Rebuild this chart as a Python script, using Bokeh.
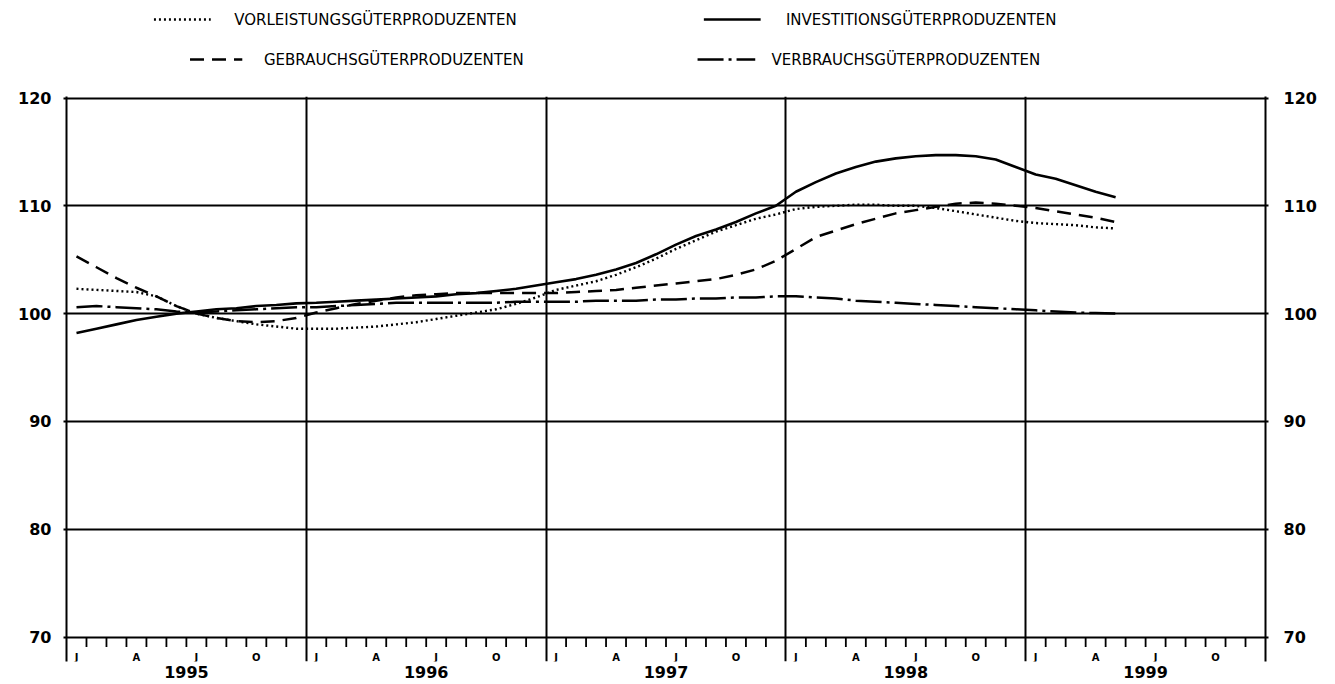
import numpy as np
from bokeh.plotting import figure
from bokeh.layouts import column
from bokeh.models import Range1d, FixedTicker, LinearAxis
from bokeh.core.properties import value
from bokeh.embed import file_html
from bokeh.resources import INLINE

# ---------------- data ----------------
years = ["1995", "1996", "1997", "1998", "1999"]
month_letters = ["J", "A", "J", "O"]          # Jan, Apr, Jul, Oct
month_letter_index = [0, 3, 6, 9]
y_ticks = [70, 80, 90, 100, 110, 120]

series_names = [
    "VORLEISTUNGSGÜTERPRODUZENTEN",
    "INVESTITIONSGÜTERPRODUZENTEN",
    "GEBRAUCHSGÜTERPRODUZENTEN",
    "VERBRAUCHSGÜTERPRODUZENTEN",
]

# monthly values, Jan 1995 .. May 1999
vorleistung = [
    102.3, 102.2, 102.1, 102.0, 101.6, 100.7, 100.0, 99.6, 99.3, 99.0, 98.8, 98.6,
    98.6, 98.6, 98.7, 98.8, 99.0, 99.2, 99.5, 99.8, 100.1, 100.4, 100.9, 101.5,
    102.2, 102.6, 103.0, 103.6, 104.3, 105.1, 106.0, 106.8, 107.6, 108.2, 108.8, 109.2,
    109.7, 109.9, 110.0, 110.1, 110.1, 110.0, 110.0, 109.8, 109.5, 109.2, 108.9, 108.6,
    108.4, 108.3, 108.2, 108.0, 107.9,
]
investition = [
    98.2, 98.6, 99.0, 99.4, 99.7, 100.0, 100.2, 100.4, 100.5, 100.7, 100.8, 100.95,
    101.0, 101.1, 101.2, 101.3, 101.4, 101.5, 101.6, 101.8, 101.9, 102.1, 102.3, 102.6,
    102.9, 103.2, 103.6, 104.1, 104.7, 105.5, 106.4, 107.2, 107.8, 108.5, 109.3, 110.0,
    111.3, 112.2, 113.0, 113.6, 114.1, 114.4, 114.6, 114.7, 114.7, 114.6, 114.3, 113.6,
    112.9, 112.5, 111.9, 111.3, 110.8,
]
gebrauch = [
    105.3, 104.3, 103.3, 102.4, 101.6, 100.7, 100.0, 99.6, 99.3, 99.2, 99.3, 99.6,
    100.1, 100.5, 100.9, 101.2, 101.5, 101.7, 101.8, 101.9, 101.9, 101.9, 101.9, 101.9,
    101.9, 102.0, 102.1, 102.2, 102.4, 102.6, 102.8, 103.0, 103.2, 103.6, 104.1, 104.9,
    106.0, 107.1, 107.7, 108.3, 108.8, 109.3, 109.6, 109.9, 110.2, 110.3, 110.2, 110.0,
    109.8, 109.5, 109.2, 108.9, 108.5,
]
verbrauch = [
    100.6, 100.7, 100.6, 100.5, 100.4, 100.2, 100.1, 100.2, 100.3, 100.4, 100.5, 100.6,
    100.6, 100.7, 100.8, 100.9, 101.0, 101.0, 101.0, 101.0, 101.0, 101.0, 101.1, 101.1,
    101.1, 101.1, 101.2, 101.2, 101.2, 101.3, 101.3, 101.4, 101.4, 101.5, 101.5, 101.6,
    101.6, 101.5, 101.4, 101.2, 101.1, 101.0, 100.9, 100.8, 100.7, 100.6, 100.5, 100.4,
    100.3, 100.2, 100.1, 100.05, 100.0,
]

# ---------------- style / layout ----------------
FONT = "DejaVu Sans"
W = 1330
LEG_H = 88
FRAME_H = 565
PX_PER_UNIT = 10.78
Y_MAX = 120 + 1.5 / PX_PER_UNIT          # keep the 120 line just inside the frame
Y_MIN = Y_MAX - FRAME_H / PX_PER_UNIT     # frame continues below the 70 line
MAIN_H = 8 + FRAME_H + 22

styles = {
    "VORLEISTUNGSGÜTERPRODUZENTEN": dict(line_dash="2 3", line_width=2.4),
    "INVESTITIONSGÜTERPRODUZENTEN": dict(line_dash="solid", line_width=2.6),
    "GEBRAUCHSGÜTERPRODUZENTEN": dict(line_dash="14 8", line_width=2.5),
    "VERBRAUCHSGÜTERPRODUZENTEN": dict(line_dash="26 5 3 5", line_width=2.5),
}
series_values = [vorleistung, investition, gebrauch, verbrauch]

n_months = len(years) * 12
x_months = np.arange(len(investition)) + 0.5     # month centres

# ---------------- legend figure (page pixel coordinates) ----------------
leg = figure(width=W, height=LEG_H, x_range=Range1d(0, W), y_range=Range1d(LEG_H, 0),
             toolbar_location=None, output_backend="svg", x_axis_type=None, y_axis_type=None,
             min_border=0, outline_line_color=None)
leg.grid.visible = False
leg_layout = [  # (sample x0, sample x1, text x, row y)
    (97, 160, 186, 19),
    (707, 770, 798, 19),
    (137, 195, 219, 59),
    (700, 764, 782, 59),
]
for name, (sx0, sx1, tx, ty) in zip(series_names, leg_layout):
    leg.line([sx0, sx1], [ty, ty], line_color="black", **styles[name])
    leg.text(x=[tx], y=[ty], text=[name], text_font=value(FONT), text_font_size="15px",
             text_baseline="middle", text_align="left", text_color="black")

# ---------------- main figure ----------------
p = figure(width=W, height=MAIN_H, x_range=Range1d(0, n_months), y_range=Range1d(Y_MIN, Y_MAX),
           toolbar_location=None, output_backend="svg",
           min_border_left=66, min_border_right=W - 1265, min_border_top=8, min_border_bottom=22,
           outline_line_color=None, background_fill_color="white")

# grid
p.ygrid.ticker = FixedTicker(ticks=y_ticks)
p.ygrid.grid_line_color = "black"
p.ygrid.grid_line_width = 2
p.xgrid.ticker = FixedTicker(ticks=[12, 24, 36, 48])
p.xgrid.grid_line_color = "black"
p.xgrid.grid_line_width = 2

# month tick marks below the 70 line
bounds = [m for m in range(1, n_months) if m % 12 != 0]
p.segment(x0=bounds, y0=[70] * len(bounds), x1=bounds, y1=[70 - 10 / PX_PER_UNIT] * len(bounds),
          line_color="black", line_width=1.8)

# month letters
lx, lt = [], []
for yi in range(len(years)):
    for idx, letter in zip(month_letter_index, month_letters):
        lx.append(yi * 12 + idx + 0.5)
        lt.append(letter)
p.text(x=lx, y=[70 - 20 / PX_PER_UNIT] * len(lx), text=lt, text_font=value(FONT),
       text_font_size="10px", text_font_style="bold", text_align="center",
       text_baseline="middle", text_color="black")

# series
for name, vals in zip(series_names, series_values):
    p.line(x_months, vals, line_color="black", **styles[name])

# axes
right = LinearAxis()
p.add_layout(right, "right")
for ax in p.yaxis:
    ax.ticker = FixedTicker(ticks=y_ticks)
    ax.axis_line_width = 2
    ax.axis_line_color = "black"
    ax.major_tick_out = 3
    ax.major_tick_in = 0
    ax.major_tick_line_width = 2
    ax.minor_tick_line_color = None
    ax.major_label_standoff = 12
    ax.major_label_text_font = FONT
    ax.major_label_text_font_size = "16px"
    ax.major_label_text_font_style = "bold"
    ax.major_label_text_color = "black"
right.major_label_standoff = 15

xa = p.xaxis[0]
xa.ticker = FixedTicker(ticks=[yi * 12 + 6 for yi in range(len(years))])
xa.major_label_overrides = {yi * 12 + 6: y for yi, y in enumerate(years)}
xa.axis_line_color = None
xa.major_tick_line_color = None
xa.minor_tick_line_color = None
xa.major_tick_out = 0
xa.minor_tick_out = 0
xa.major_label_standoff = 4
xa.major_label_text_font = FONT
xa.major_label_text_font_size = "16px"
xa.major_label_text_font_style = "bold"
xa.major_label_text_color = "black"

layout = column(leg, p, spacing=0)
open("out.html", "w").write(file_html(layout, INLINE))
